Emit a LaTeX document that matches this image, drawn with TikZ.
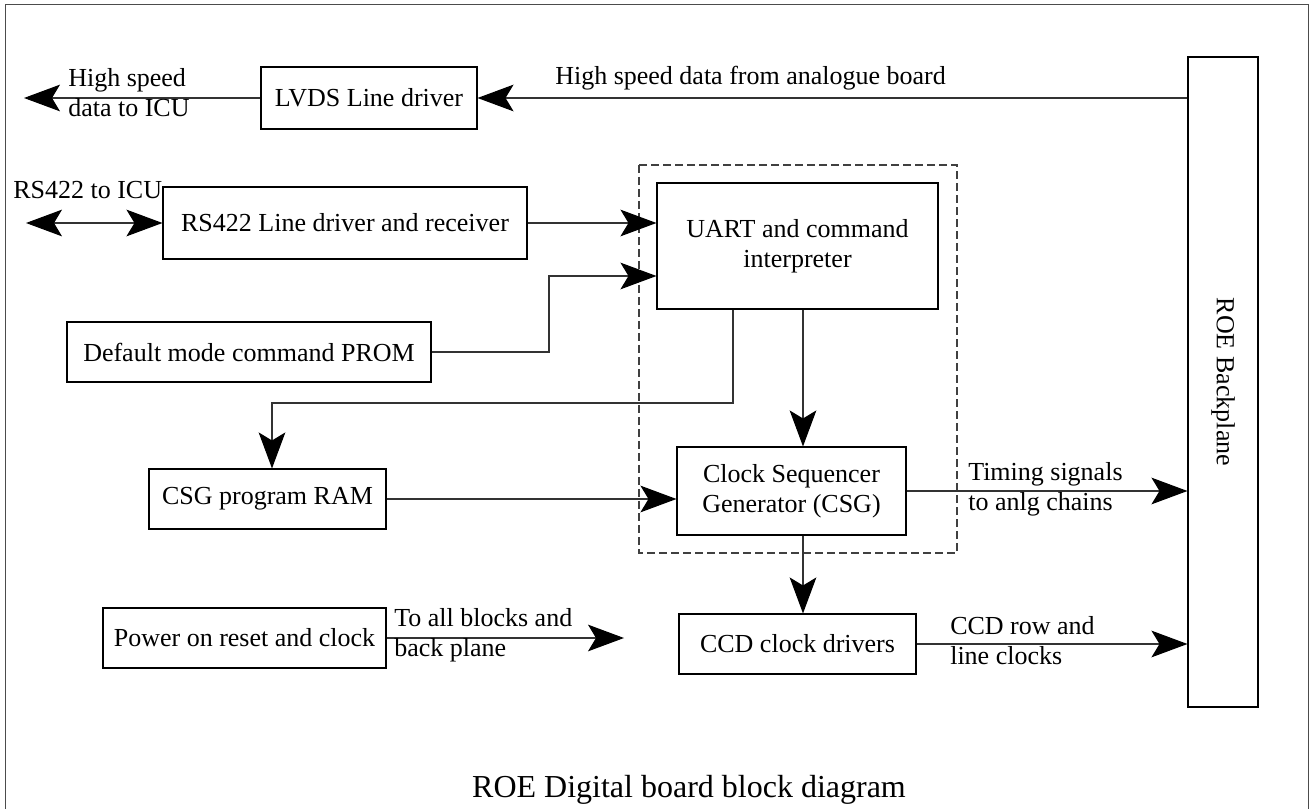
\documentclass[tikz,border=0pt]{standalone}
\usepackage{fontspec}
\setmainfont{Liberation Serif}
\usetikzlibrary{arrows.meta}
% lengths given in drawing units (1 unit = 0.75pt)
\newcommand\pxu[1]{#1*0.75pt}

\begin{document}
\begin{tikzpicture}[x=0.75pt, y=-0.75pt,
  >={Stealth[length=27pt, width=20pt, inset=6pt, color=black]},
  every node/.style={font=\fontsize{19.5}{22.5}\selectfont, inner sep=0pt},
  block/.style={draw=black, line width=0.8pt, fill=white, align=center},
  link/.style={draw=black!80, line width=0.8pt},
  group/.style={draw=black!75, line width=0.8pt, dash pattern=on 6pt off 3pt},
  frame/.style={draw=black!70, line width=0.75pt},
  sidelabel/.style={anchor=base west},
  caption/.style={font=\fontsize{24}{28}\selectfont, anchor=base}
]
\useasboundingbox (0,0) rectangle (1315,809);

% outer frame of the board
\draw[frame] (5,5) rectangle (1308,830);

% FPGA boundary around UART and sequencer
\draw[group] (639,165) rectangle (957,553);

% blocks
\node[block, minimum width=\pxu{216}, minimum height=\pxu{62}] (lvds) at (369,98) {LVDS Line driver};
\node[block, minimum width=\pxu{364}, minimum height=\pxu{72}] (rs) at (345,223) {RS422 Line driver and receiver};
\node[block, minimum width=\pxu{281}, minimum height=\pxu{126}] (uart) at (797.5,246) {UART and command\\interpreter};
\node[block, minimum width=\pxu{364}, minimum height=\pxu{60}] (prom) at (249,352) {Default mode command PROM};
\node[block, minimum width=\pxu{237}, minimum height=\pxu{60}] (ram) at (267.5,499) {CSG program RAM};
\node[block, minimum width=\pxu{229}, minimum height=\pxu{88}] (csg) at (791.5,491) {Clock Sequencer\\Generator (CSG)};
\node[block, minimum width=\pxu{283}, minimum height=\pxu{60}] (pwr) at (244.5,638) {Power on reset and clock};
\node[block, minimum width=\pxu{237}, minimum height=\pxu{60}] (ccd) at (797.5,644) {CCD clock drivers};
\node[block, minimum width=\pxu{70}, minimum height=\pxu{650}] (bp) at (1223,382) {};
\node[rotate=-90] (bptext) at (1223,382) {ROE Backplane};

% free ends and bends of connectors
\coordinate (icuout) at (24,98);
\coordinate (icurs) at (26,223);
\coordinate (jog) at (549,276);
\coordinate (bendA) at (733,403);
\coordinate (bendB) at (272,403);
\coordinate (seqx) at (803,0);
\coordinate (pwrend) at (624,638);

% connectors
\draw[link, ->] (lvds.east -| bp.west) -- (lvds.east);
\draw[link, ->] (lvds.west) -- (icuout);
\draw[link, <->] (icurs) -- (rs.west);
\draw[link, ->] (rs.east) -- (rs.east -| uart.west);
\draw[link, ->] (prom.east) -| (jog) -- (jog -| uart.west);
\draw[link, ->] (uart.south -| bendA) -- (bendA) -- (bendB) -- (bendB |- ram.north);
\draw[link, ->] (uart.south -| seqx) -- (csg.north -| seqx);
\draw[link, ->] (ram.east) -- (ram.east -| csg.west);
\draw[link, ->] (csg.east) -- (csg.east -| bp.west);
\draw[link, ->] (csg.south -| seqx) -- (ccd.north -| seqx);
\draw[link, ->] (ccd.east) -- (ccd.east -| bp.west);
\draw[link, ->] (pwr.east) -- (pwrend);

% connector labels
\node[sidelabel] (lhs) at (555,85) {High speed data from analogue board};
\node[sidelabel] (licu) at (68,87) {\begin{tabular}[t]{@{}l@{}}High speed\\data to ICU\end{tabular}};
\node[sidelabel] (lrs) at (13,199) {RS422 to ICU};
\node[sidelabel] (ltim) at (968,480) {\begin{tabular}[t]{@{}l@{}}Timing signals\\to anlg chains\end{tabular}};
\node[sidelabel] (lccd) at (950,634) {\begin{tabular}[t]{@{}l@{}}CCD row and\\line clocks\end{tabular}};
\node[sidelabel] (lpwr) at (394,626) {\begin{tabular}[t]{@{}l@{}}To all blocks and\\back plane\end{tabular}};

% caption
\node[caption] (title) at (689,797) {ROE Digital board block diagram};
\end{tikzpicture}
\end{document}
